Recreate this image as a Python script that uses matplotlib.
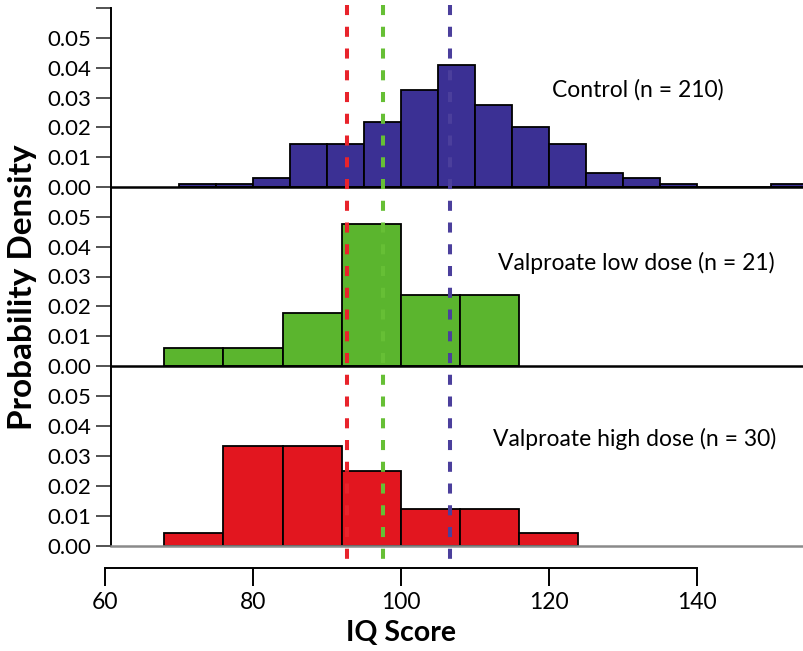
import matplotlib
matplotlib.use("Agg")
import matplotlib.pyplot as plt

matplotlib.rcParams['font.family'] = 'Lato'

# histogram data (bin left edges, density)
control_bins = [70, 75, 80, 85, 90, 95, 100, 105, 110, 115, 120, 125, 130, 135, 140, 145, 150]
control_density = [0.00095, 0.00095, 0.0029, 0.0143, 0.0143, 0.0219, 0.0324, 0.0410,
                   0.0276, 0.0200, 0.0143, 0.0048, 0.0029, 0.00095, 0.0, 0.0, 0.00095]
low_bins = [68, 76, 84, 92, 100, 108]
low_density = [0.0060, 0.0060, 0.0179, 0.0476, 0.0238, 0.0238]
high_bins = [68, 76, 84, 92, 100, 108, 116]
high_density = [0.0042, 0.0333, 0.0333, 0.0250, 0.0125, 0.0125, 0.0042]

# group means (dashed lines)
mean_high = 92.7
mean_low = 97.6
mean_control = 106.7

labels = ["Control (n = 210)", "Valproate low dose (n = 21)", "Valproate high dose (n = 30)"]
yticks = [0.0, 0.01, 0.02, 0.03, 0.04, 0.05]
xticks = [60, 80, 100, 120, 140]

BLUE = '#3b3094'
GREEN = '#5bb52e'
RED = '#e2161f'

W, H = 804, 651
fig = plt.figure(figsize=(W / 100, H / 100), dpi=100)


def px_axes(left, top, right, bottom):
    return fig.add_axes([left / W, 1 - bottom / H, (right - left) / W, (bottom - top) / H])


panels = [
    (8, 187, control_bins, control_density, 5, BLUE, labels[0], 120.4, 0.0326, 'black'),
    (187, 366, low_bins, low_density, 8, GREEN, labels[1], 113.1, 0.0347, 'black'),
    (366, 546, high_bins, high_density, 8, RED, labels[2], 112.4, 0.0357, '#8a8a8a'),
]

for i, (top, bot, bins, dens, w, col, lab, tx, ty, basecol) in enumerate(panels):
    ax = px_axes(111, top, 804, bot)
    ax.patch.set_alpha(0)
    ax.bar(bins, dens, width=w, align='edge', color=col, edgecolor='black', linewidth=1.3)
    ax.set_xlim(60.8, 154.5)
    ax.set_ylim(0, 0.06)
    if i == 0:
        ax.set_yticks(yticks + [0.06])
        ax.set_yticklabels(["%.2f" % v for v in yticks] + [""])
    else:
        ax.set_yticks(yticks)
        ax.set_yticklabels(["%.2f" % v for v in yticks])
    ax.set_xticks([])
    for s in ['top', 'right']:
        ax.spines[s].set_visible(False)
    ax.spines['left'].set_linewidth(1.4)
    ax.spines['bottom'].set_linewidth(1.8)
    ax.spines['bottom'].set_color(basecol)
    ax.tick_params(axis='y', direction='out', length=11, width=1.3, color='#444444',
                   labelsize=16, pad=3)
    ax.text(tx, ty, lab, ha='left', va='center', fontsize=16.5)

# overlay axes: mean lines + separate IQ axis
ov = px_axes(105, 5, 804, 568)
ov.patch.set_alpha(0)
ov.set_xlim(60, 154.5)
ov.set_ylim(0, 1)
for m, c in [(mean_high, '#e8232b'), (mean_low, '#66bf35'), (mean_control, '#4b3f9c')]:
    ov.plot([m, m], [1, 0], color=c, lw=2.9, ls=(0, (2.5, 2.9)), solid_capstyle='butt',
            dash_capstyle='butt')
ov.set_yticks([])
ov.set_xticks(xticks)
for s in ['top', 'right', 'left']:
    ov.spines[s].set_visible(False)
ov.spines['bottom'].set_bounds(60, 140)
ov.spines['bottom'].set_linewidth(1.4)
ov.tick_params(axis='x', direction='out', length=13, width=1.4, labelsize=16.5, pad=4)

fig.text(401 / W, 1 - 633 / H, "IQ Score", ha='center', va='center', fontsize=20.5,
         fontweight='bold')
fig.text(23 / W, 1 - 287 / H, "Probability Density", ha='center', va='center', fontsize=24,
         fontweight='bold', rotation=90)

fig.savefig("out.png", dpi=100)
